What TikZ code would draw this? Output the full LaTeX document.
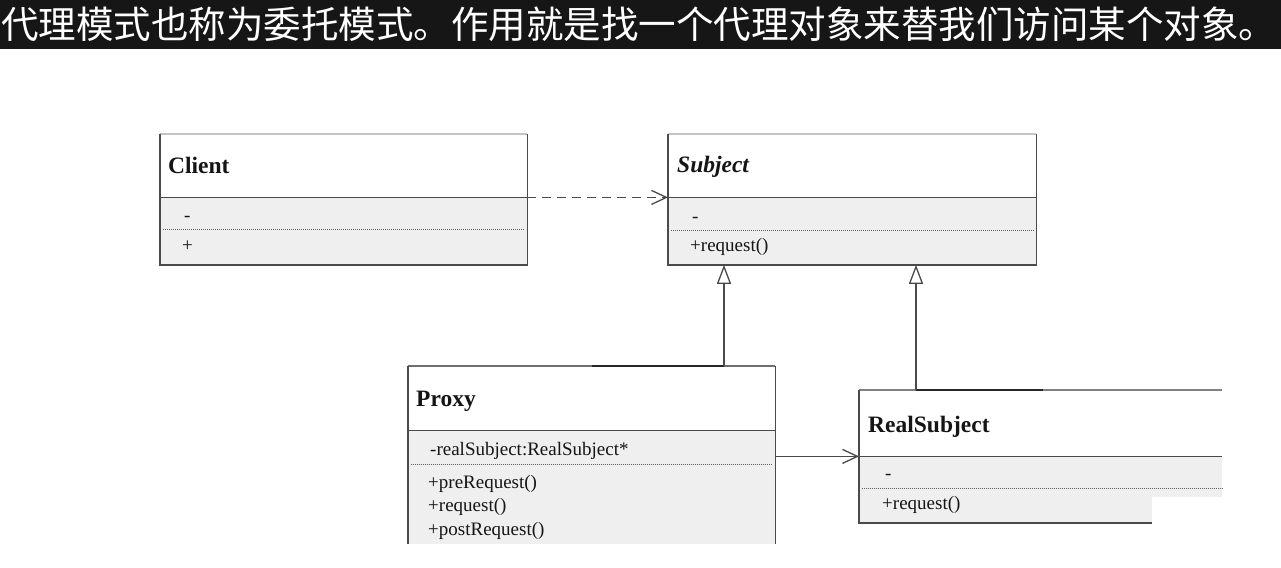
\documentclass[tikz,border=0pt]{standalone}
\usepackage{fontspec}
\setmainfont{Liberation Serif}
\newfontfamily\cjk{Noto Sans CJK SC}
\usetikzlibrary{arrows.meta}
\definecolor{banner}{HTML}{161616}
\definecolor{frame}{HTML}{4A4A4A}
\definecolor{bodyfill}{HTML}{EFEFEF}
\definecolor{topedge}{HTML}{C4C4C4}
\definecolor{ink}{HTML}{151515}
\definecolor{dotc}{HTML}{606060}
\begin{document}
\begin{tikzpicture}[x=1pt,y=-1pt,
  hdr/.style={rectangle, fill=white, inner sep=0pt, anchor=north west, draw=none},
  bdy/.style={rectangle, fill=bodyfill, inner sep=0pt, anchor=north west, draw=none},
  frameline/.style={draw=frame, line width=1.5pt},
  topline/.style={draw=topedge, line width=1.2pt},
  sepdots/.style={draw=dotc, line width=0.9pt, dash pattern=on 1pt off 1pt},
  cname/.style={anchor=base west, inner sep=0pt, text=ink, font=\fontsize{23.5}{26}\selectfont\bfseries},
  member/.style={anchor=base west, inner sep=0pt, text=ink, font=\fontsize{19}{21}\selectfont},
  conn/.style={draw=frame, line width=1.3pt},
  dep/.style={conn, dash pattern=on 9pt off 6pt, -{Straight Barb[length=15pt,width=14pt,line width=1.3pt]}},
  assoc/.style={conn, -{Straight Barb[length=15pt,width=14pt,line width=1.3pt]}},
  inherit/.style={conn, -{Triangle[open, length=19pt, width=14pt, fill=white, line width=1.3pt]}},
  darkseg/.style={draw=black!85, line width=2pt}
]
\useasboundingbox (0,0) rectangle (1281,567);
% background and banner
\fill[white] (0,0) rectangle (1281,567);
\fill[banner] (0,0) rectangle (1281,49);
\node[anchor=west, inner sep=0pt, text=white, font=\cjk\fontsize{37.5}{40}\selectfont] (title) at (1,24) {代理模式也称为委托模式。作用就是找一个代理对象来替我们访问某个对象。};

% ---------- Client ----------
\node[hdr, minimum width=367pt, minimum height=63pt] (clienth) at (160,134) {};
\node[bdy, minimum width=367pt, minimum height=67pt] (clientb) at (clienth.south west) {};
\draw[topline] (clienth.north west) -- (clienth.north east);
\draw[frameline] (clienth.north west) -- (clientb.south west) -- (clientb.south east) -- (clienth.north east);
\draw[frameline] (clienth.south west) -- (clienth.south east);
\draw[sepdots] ([xshift=3pt,yshift=-32pt]clientb.north west) -- ([xshift=-3pt,yshift=-32pt]clientb.north east);
\node[cname] (clientn) at (168,173) {Client};
\node[member] (clienta) at (184,221) {-};
\node[member] (clientm) at (182,251) {+};

% ---------- Subject ----------
\node[hdr, minimum width=368pt, minimum height=63pt] (subjh) at (668,134) {};
\node[bdy, minimum width=368pt, minimum height=67pt] (subjb) at (subjh.south west) {};
\draw[topline] (subjh.north west) -- (subjh.north east);
\draw[frameline] (subjh.north west) -- (subjb.south west) -- (subjb.south east) -- (subjh.north east);
\draw[frameline] (subjh.south west) -- (subjh.south east);
\draw[sepdots] ([xshift=3pt,yshift=-33pt]subjb.north west) -- ([xshift=-3pt,yshift=-33pt]subjb.north east);
\node[cname, font=\fontsize{23.5}{26}\selectfont\bfseries\itshape] (subjn) at (677,172) {Subject};
\node[member] (subja) at (692,222) {-};
\node[member] (subjm) at (690,251) {+request()};

% ---------- Proxy ----------
\node[hdr, minimum width=367pt, minimum height=64pt] (proxyh) at (408,366) {};
\node[bdy, minimum width=367pt, minimum height=113pt] (proxyb) at (proxyh.south west) {};
\draw[frameline, draw=frame!80] (proxyh.north west) -- (proxyh.north east);
\draw[frameline] (proxyb.south west) -- (proxyh.north west);
\draw[frameline] (proxyb.south east) -- (proxyh.north east);
\draw[frameline] (proxyh.south west) -- (proxyh.south east);
\draw[sepdots] ([xshift=3pt,yshift=-34pt]proxyb.north west) -- ([xshift=-3pt,yshift=-34pt]proxyb.north east);
\node[cname] (proxyn) at (416,406) {Proxy};
\node[member] (proxya) at (430,455) {-realSubject:RealSubject*};
\node[member] (proxym1) at (428,488) {+preRequest()};
\node[member] (proxym2) at (428,511.5) {+request()};
\node[member] (proxym3) at (428,535) {+postRequest()};

% ---------- RealSubject ----------
\node[hdr, minimum width=363pt, minimum height=66pt] (rsh) at (859,390) {};
\node[bdy, minimum width=363pt, minimum height=66pt] (rsb) at (rsh.south west) {};
\fill[white] (1152,497) rectangle (1222,530);
\draw[frameline, draw=frame!70] (rsh.north west) -- (rsh.north east);
\draw[frameline] (rsh.north west) -- (rsb.south west) -- ([xshift=293pt]rsb.south west);
\draw[frameline] (rsh.south west) -- (rsh.south east);
\draw[sepdots] ([xshift=3pt,yshift=-32pt]rsb.north west) -- ([yshift=-32pt]rsb.north east);
\node[cname] (rsn) at (868,432) {RealSubject};
\node[member] (rsa) at (885,479) {-};
\node[member] (rsm) at (882,509) {+request()};

% ---------- connectors ----------
\draw[dep] (clienth.south east) -- (subjh.south west);
\coordinate (i1) at ([xshift=316pt]proxyh.north west);
\coordinate (i1s) at ([xshift=184pt]proxyh.north west);
\draw[darkseg] (i1s) -- (i1);
\draw[inherit] (i1) -- (i1 |- subjb.south);
\coordinate (i2) at ([xshift=57pt]rsh.north west);
\coordinate (i2s) at ([xshift=184pt]rsh.north west);
\draw[darkseg] (i2s) -- (i2);
\draw[inherit] (i2) -- (i2 |- subjb.south);
\draw[assoc] (proxyb.east |- rsh.south west) -- (rsh.south west);
\end{tikzpicture}
\end{document}
